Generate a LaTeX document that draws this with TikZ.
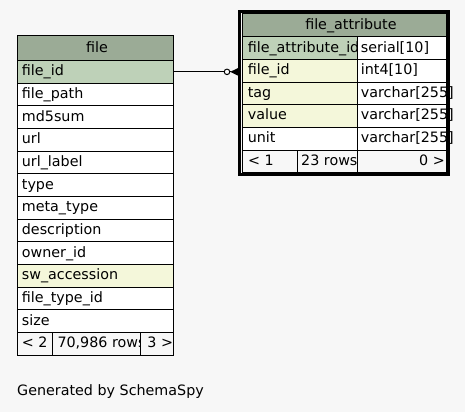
\documentclass[tikz,border=0pt]{standalone}
\usepackage{fontspec}
\setmainfont{DejaVu Sans}
\definecolor{bg}{HTML}{F7F7F7}
\definecolor{head}{HTML}{9BAB96}
\definecolor{pk}{HTML}{BED1B8}
\definecolor{idx}{HTML}{F4F7DA}
\tikzset{
  cell/.style={draw=black, line width=1pt, anchor=north west, inner sep=0pt, outer sep=0pt},
  txt/.style={anchor=base west, inner sep=0pt, font=\fontsize{14.3}{17}\selectfont},
}
\begin{document}
\begin{tikzpicture}[x=1pt,y=-1pt]
\fill[bg] (0,0) rectangle (465,412);
\useasboundingbox (0,0) rectangle (465,412);

% ---- table: file ----
\node[cell, fill=head, minimum width=156pt, minimum height=24.5pt] (fh) at (17.5,36) {};
\node[txt, anchor=base] at ([xshift=1.5pt,yshift=-3.8pt]fh.center) {file};
\foreach \t/\c [count=\i from 0] in {file\_id/pk, file\_path/white, md5sum/white, url/white,
    url\_label/white, type/white, meta\_type/white, description/white, owner\_id/white,
    sw\_accession/idx, file\_type\_id/white, size/white} {
  \node[cell, fill=\c, minimum width=156pt, minimum height=22.68pt] (f\i) at (17.5,{60.5+22.68*\i}) {};
  \node[txt] at ([xshift=4.2pt,yshift=-3.8pt]f\i.west) {\t};
}
% footer
\node[cell, fill=bg, minimum width=34.8pt, minimum height=22.68pt] (ffa) at (17.5,332.66) {};
\node[cell, fill=bg, minimum width=88pt, minimum height=22.68pt] (ffb) at (52.3,332.66) {};
\node[cell, fill=bg, minimum width=33.2pt, minimum height=22.68pt] (ffc) at (140.3,332.66) {};
\node[txt] at ([xshift=4.2pt,yshift=-3.8pt]ffa.west) {< 2};
\begin{scope}
  \clip (ffb.north west) rectangle (ffb.south east);
  \node[txt] at ([xshift=5pt,yshift=-3.8pt]ffb.west) {70,986 rows};
\end{scope}
\node[txt, anchor=base east] at ([xshift=-0.3pt,yshift=-3.8pt]ffc.east) {3 >};

% ---- table: file_attribute ----
\node[cell, fill=head, minimum width=203.2pt, minimum height=23pt] (ah) at (242.8,14) {};
\node[txt, anchor=base] at ([xshift=6.5pt,yshift=-3.8pt]ah.center) {file\_attribute};
\foreach \t/\c/\ty [count=\i from 0] in {file\_attribute\_id/pk/serial[10], file\_id/idx/int4[10],
    tag/idx/varchar[255], value/idx/varchar[255], unit/white/varchar[255]} {
  \node[cell, fill=\c, minimum width=114.9pt, minimum height=22.6pt] (a\i) at (242.8,{37+22.6*\i}) {};
  \node[cell, fill=white, minimum width=88.3pt, minimum height=22.6pt] (t\i) at (357.7,{37+22.6*\i}) {};
}
\foreach \t/\ty [count=\i from 0] in {file\_attribute\_id/serial[10], file\_id/int4[10],
    tag/varchar[255], value/varchar[255], unit/varchar[255]} {
  \node[txt] at ([xshift=4.8pt,yshift=-3.8pt]a\i.west) {\t};
  \node[txt] at ([xshift=3pt,yshift=-3.8pt]t\i.west) {\ty};
}
% footer
\node[cell, fill=bg, minimum width=54.9pt, minimum height=22.6pt] (afa) at (242.8,150) {};
\node[cell, fill=bg, minimum width=60pt, minimum height=22.6pt] (afb) at (297.7,150) {};
\node[cell, fill=bg, minimum width=88.3pt, minimum height=22.6pt] (afc) at (357.7,150) {};
\node[txt] at ([xshift=5pt,yshift=-3.8pt]afa.west) {< 1};
\begin{scope}
  \clip (afb.north west) rectangle (afb.south east);
  \node[txt] at ([xshift=3.3pt,yshift=-3.8pt]afb.west) {23 rows};
\end{scope}
\node[txt, anchor=base east] at ([xshift=-1pt,yshift=-3.8pt]afc.east) {0 >};

% ---- relationship: file.file_id -> file_attribute.file_id ----
\node[circle, draw, fill=white, line width=1pt, minimum size=5.5pt, inner sep=0pt] (od) at (227,71.84) {};
\coordinate (ct) at (230.2,71.84);
\draw[line width=1pt] (f0.east) -- (od.west);
\draw[line width=1pt] (od.east) -- (ct);
\fill (ct) -- (239,67.6) -- (239,76.1) -- cycle;

% heavy frame around the focused table
\node[draw, line width=3pt, anchor=north west, inner sep=0pt, outer sep=0pt,
      minimum width=209pt, minimum height=163.4pt] (fa) at (239.5,11.5) {};

\node[txt] (gen) at (17,395) {Generated by SchemaSpy};
\end{tikzpicture}
\end{document}
